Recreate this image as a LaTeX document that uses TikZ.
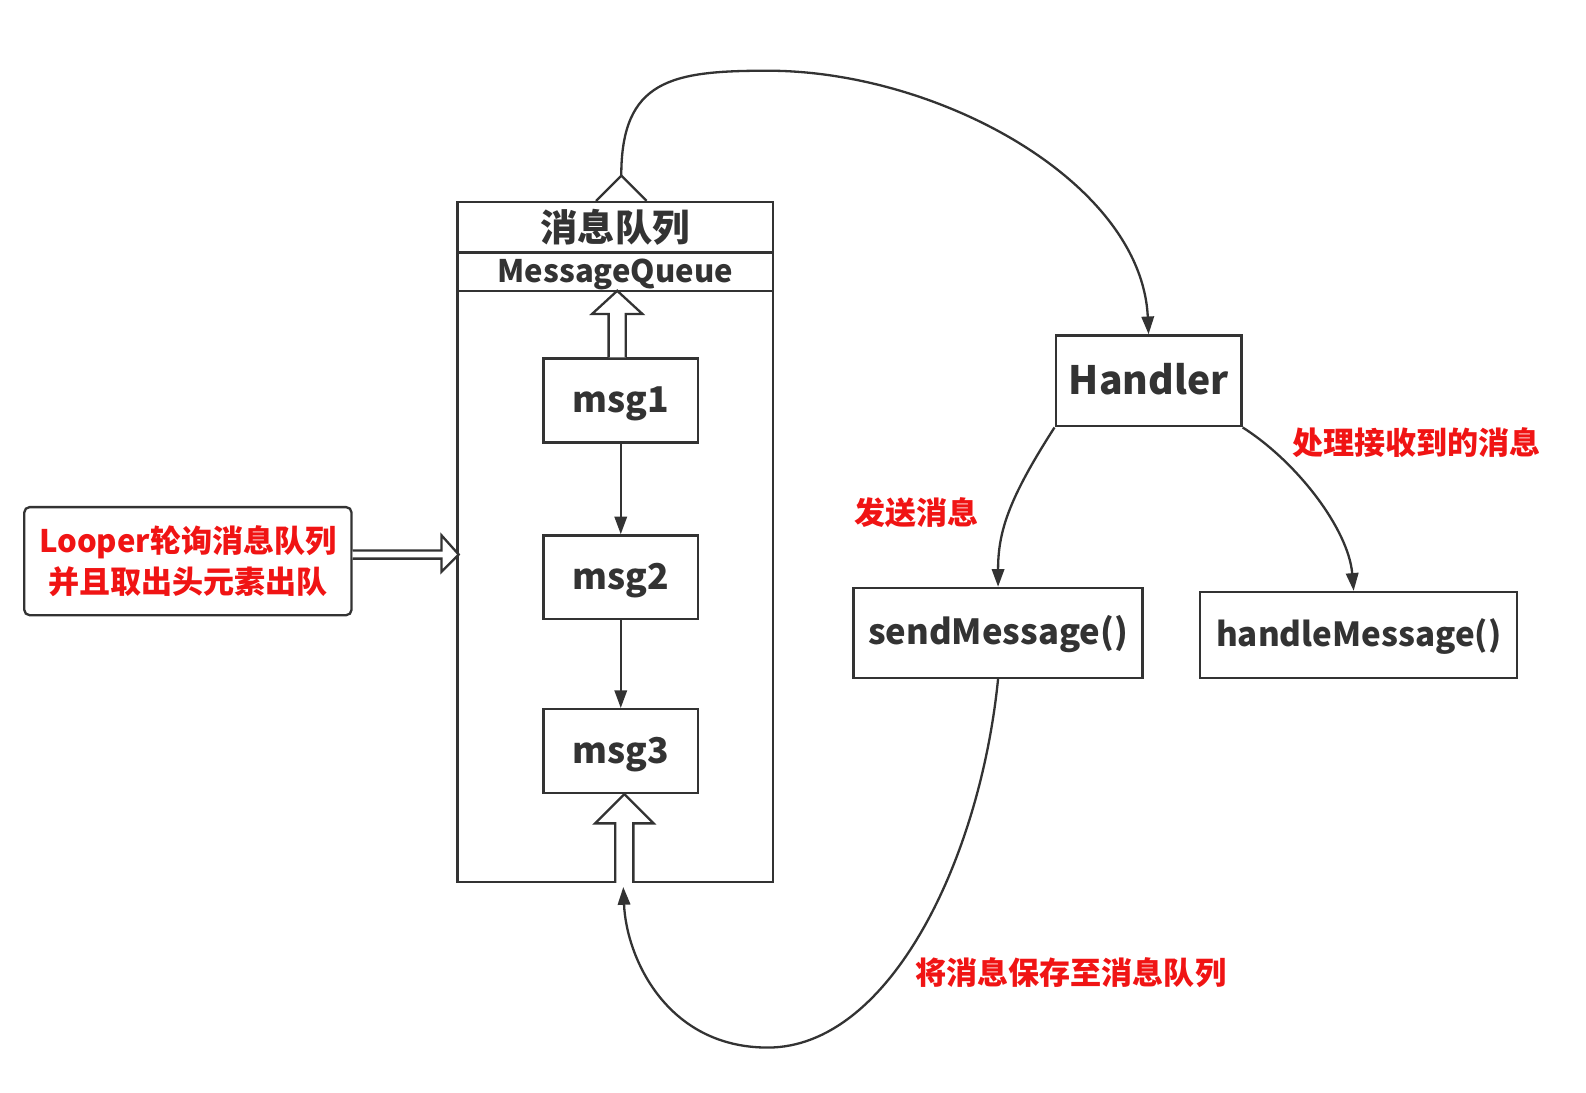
\documentclass[tikz,border=0pt]{standalone}
\usepackage{fontspec}
\newfontfamily\yh{Noto Sans CJK SC Black}
\usetikzlibrary{arrows.meta,calc}
\begin{document}
\begin{tikzpicture}[x=0.02cm, y=-0.02cm,
  line width=1.3pt,
  box/.style={draw=ink, text=ink, minimum width=#1, inner sep=0pt},
  txt/.style={font=\yh\fontsize{#1}{#1}\selectfont, text height=0.8*#1pt, text depth=0.12*#1pt},
  redtxt/.style={text=alert, font=\yh\fontsize{17.5}{22.8}\selectfont, align=center},
  link/.style={draw=ink, -{Triangle[length=10pt,width=7pt]}},
  hollow/.style={draw=ink, fill=white, line join=miter}]
\definecolor{ink}{HTML}{333333}
\definecolor{alert}{HTML}{F01414}
\useasboundingbox (0,0) rectangle (1570,1081);
% message queue
\node[box=6.24cm, minimum height=13.46cm] (queue) at (609,536.5) {};
\node[box=6.24cm, minimum height=1cm, font=\yh\fontsize{21}{21}\selectfont] (qtitle) at (609,225) {消息队列};
\node[box=6.24cm, minimum height=0.76cm, txt=17.5] (qname) at (609,269) {MessageQueue};
\node[box=3.06cm, minimum height=1.66cm, txt=20] (msg1) at (614.5,396.5) {msg1};
\node[box=3.06cm, minimum height=1.66cm, txt=20] (msg2) at (614.5,571.5) {msg2};
\node[box=3.06cm, minimum height=1.66cm, txt=20] (msg3) at (614.5,743.5) {msg3};
\draw[link] (msg1) -- (msg2);
\draw[link] (msg2) -- (msg3);
\draw[hollow] ($(msg1.north)+(-12,0)$) -- ++(0,-43) -- ++(-16.5,0) -- ++(25,-23) -- ++(25,23) -- ++(-16.5,0) -- ++(0,43);
\draw[hollow] (queue.south) -- ++(0,-59) -- ++(-20,0) -- ++(29,-29) -- ++(29,29) -- ++(-20,0) -- ++(0,59);
% looper
\node[box=6.48cm, minimum height=2.14cm, rounded corners=3pt, redtxt] (looper) at (186,555.5) {Looper轮询消息队列\\并且取出头元素出队};
\draw[hollow] ($(looper.east)+(0,-10.5)$) -- ++(88,0) -- ++(0,-15) -- ++(17,19) -- ++(-17,17) -- ++(0,-13) -- ++(-88,0);
% handler side
\node[box=3.68cm, minimum height=1.8cm, txt=22] (handler) at (1137,377) {Handler};
\node[box=5.72cm, minimum height=1.78cm, txt=19.5] (send) at (988,626.5) {sendMessage()};
\node[box=6.28cm, minimum height=1.7cm, txt=18.7] (handle) at (1345,628.5) {handleMessage()};
\coordinate (qtop) at ($(qtitle.north)+(6,-25)$);
\coordinate (arc) at (760,70);
\coordinate (loop) at (760,1037);
\coordinate (qin) at ($(queue.south)+(8,4)$);
\draw[draw=ink, line join=miter] ($(qtop)+(-25,25)$) -- (qtop) -- ++(25,25);
\draw[link] (qtop) .. controls +(0,-95) and +(-95,0) .. (arc) .. controls +(170,0) and +(-7,-150) .. (handler.north);
\draw[link] (handler.south west) .. controls +(-45,70) and +(0,-55) .. (send.north);
\draw[link] (handler.south east) .. controls +(55,35) and +(-5,-60) .. ($(handle.north)+(-5,0)$);
\draw[link] (send.south) .. controls +(-18,180) and +(120,0) .. (loop) .. controls +(-100,0) and +(3,70) .. (qin);
% labels
\node[redtxt] (lsend) at (907,508) {发送消息};
\node[redtxt] (lhandle) at (1402,438) {处理接收到的消息};
\node[redtxt] (lsave) at (1060,963) {将消息保存至消息队列};
\end{tikzpicture}
\end{document}
